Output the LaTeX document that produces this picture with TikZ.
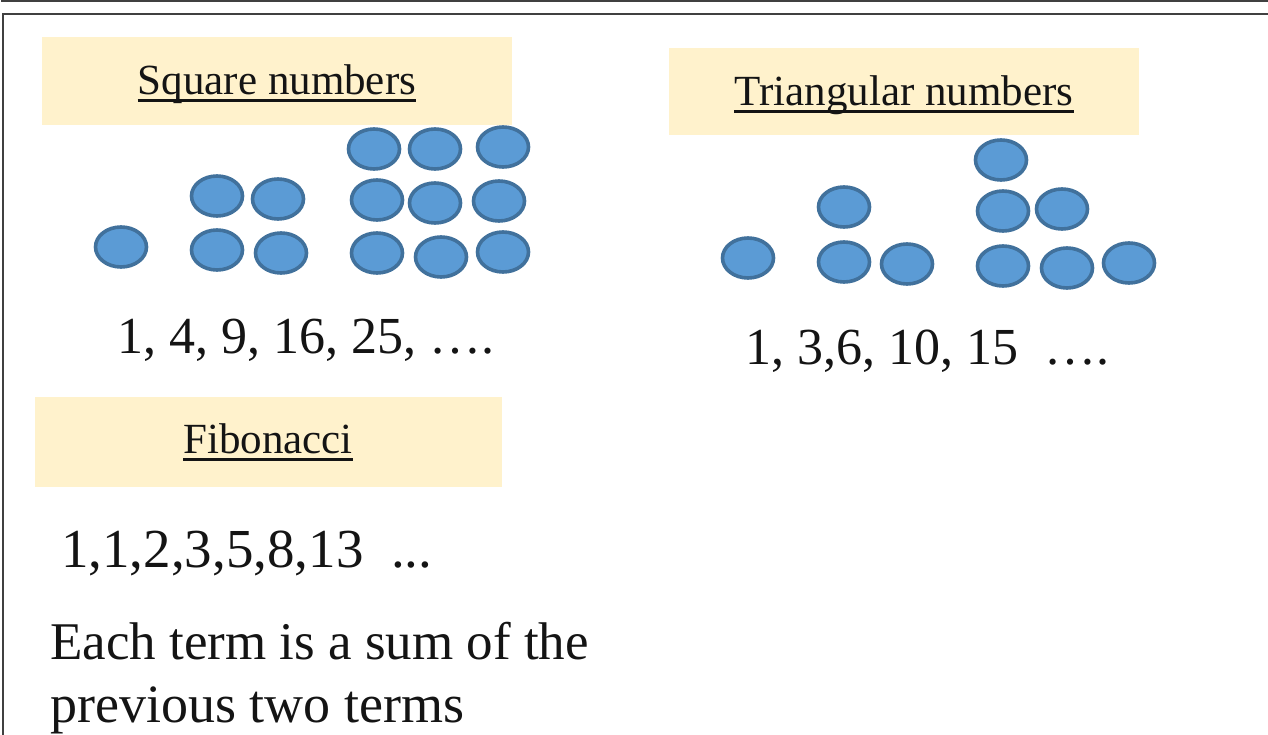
\documentclass[tikz,border=0pt]{standalone}
\usepackage{fontspec}
\setmainfont{Liberation Serif}
\usetikzlibrary{shapes.geometric}
\definecolor{dotfill}{HTML}{5B9BD5}
\definecolor{dotline}{HTML}{41719C}
\definecolor{beige}{HTML}{FFF2CC}
\definecolor{framegray}{HTML}{404040}
\definecolor{ink}{HTML}{141414}
\begin{document}
\begin{tikzpicture}[x=1pt,y=-1pt,
  dot/.style={ellipse,draw=dotline,fill=dotfill,line width=3.6pt,minimum width=51pt,minimum height=40pt,inner sep=0pt},
  band/.style={fill=beige,inner sep=0pt,anchor=north west},
  title/.style={font=\fontsize{43}{50}\selectfont,text=ink,inner sep=0pt,anchor=base},
  seq/.style={inner sep=0pt,anchor=base west,text=ink},
  uline/.style={line width=3pt,ink},
  frameline/.style={framegray,line width=2pt}]
\useasboundingbox (0,0) rectangle (1268,735);
% frames
\draw[frameline] (2,-5) -- (2,1.5) -- (1275,1.5);
\draw[frameline] (3,740) -- (3,14) -- (1275,14);
% bands
\node[band,minimum width=470pt,minimum height=88pt] (sqband) at (42,37) {};
\node[band,minimum width=470pt,minimum height=87pt] (triband) at (669,48) {};
\node[band,minimum width=467pt,minimum height=90pt] (fibband) at (35,397) {};
% titles
\node[title] (sqtitle) at (277,95) {Square numbers};
\node[title] (trititle) at (904,106) {Triangular numbers};
\node[title] (fibtitle) at (268,453) {Fibonacci};
\draw[uline] ([yshift=-6pt]sqtitle.base west) -- ([yshift=-6pt]sqtitle.base east);
\draw[uline] ([yshift=-6pt]trititle.base west) -- ([yshift=-6pt]trititle.base east);
\draw[uline] ([yshift=-6pt]fibtitle.base west) -- ([yshift=-6pt]fibtitle.base east);
% square dots
\node[dot] (s1) at (121,247) {};
\node[dot] (s2a) at (217,196) {};
\node[dot] (s2b) at (278,199) {};
\node[dot] (s2c) at (217,250) {};
\node[dot] (s2d) at (281,253) {};
\node[dot] (s3a) at (374,149) {};
\node[dot] (s3b) at (435,149) {};
\node[dot] (s3c) at (503,147) {};
\node[dot] (s3d) at (377,200) {};
\node[dot] (s3e) at (435,203) {};
\node[dot] (s3f) at (499,201) {};
\node[dot] (s3g) at (377,253) {};
\node[dot] (s3h) at (441,257) {};
\node[dot] (s3i) at (503,252) {};
% triangular dots
\node[dot] (t1) at (748,258) {};
\node[dot] (t2a) at (844,207) {};
\node[dot] (t2b) at (844,262) {};
\node[dot] (t2c) at (907,264) {};
\node[dot] (t3a) at (1001,160) {};
\node[dot] (t3b) at (1003,211) {};
\node[dot] (t3c) at (1062,209) {};
\node[dot] (t3d) at (1003,266) {};
\node[dot] (t3e) at (1067,268) {};
\node[dot] (t3f) at (1129,263) {};
% sequences
\node[seq,font=\fontsize{52}{60}\selectfont] (sqseq) at (117,353) {1, 4, 9, 16, 25, ….};
\node[seq,font=\fontsize{52}{60}\selectfont] (triseq) at (745,364) {1, 3,6, 10, 15\ \ ….};
\node[seq,font=\fontsize{55}{63}\selectfont] (fibseq) at (61,567) {1,1,2,3,5,8,13\ \ ...};
\node[seq,font=\fontsize{53}{63}\selectfont] (desc1) at (50,659) {Each term is a sum of the};
\node[seq,font=\fontsize{54}{63}\selectfont] (desc2) at (50,722) {previous two terms};
\end{tikzpicture}
\end{document}
